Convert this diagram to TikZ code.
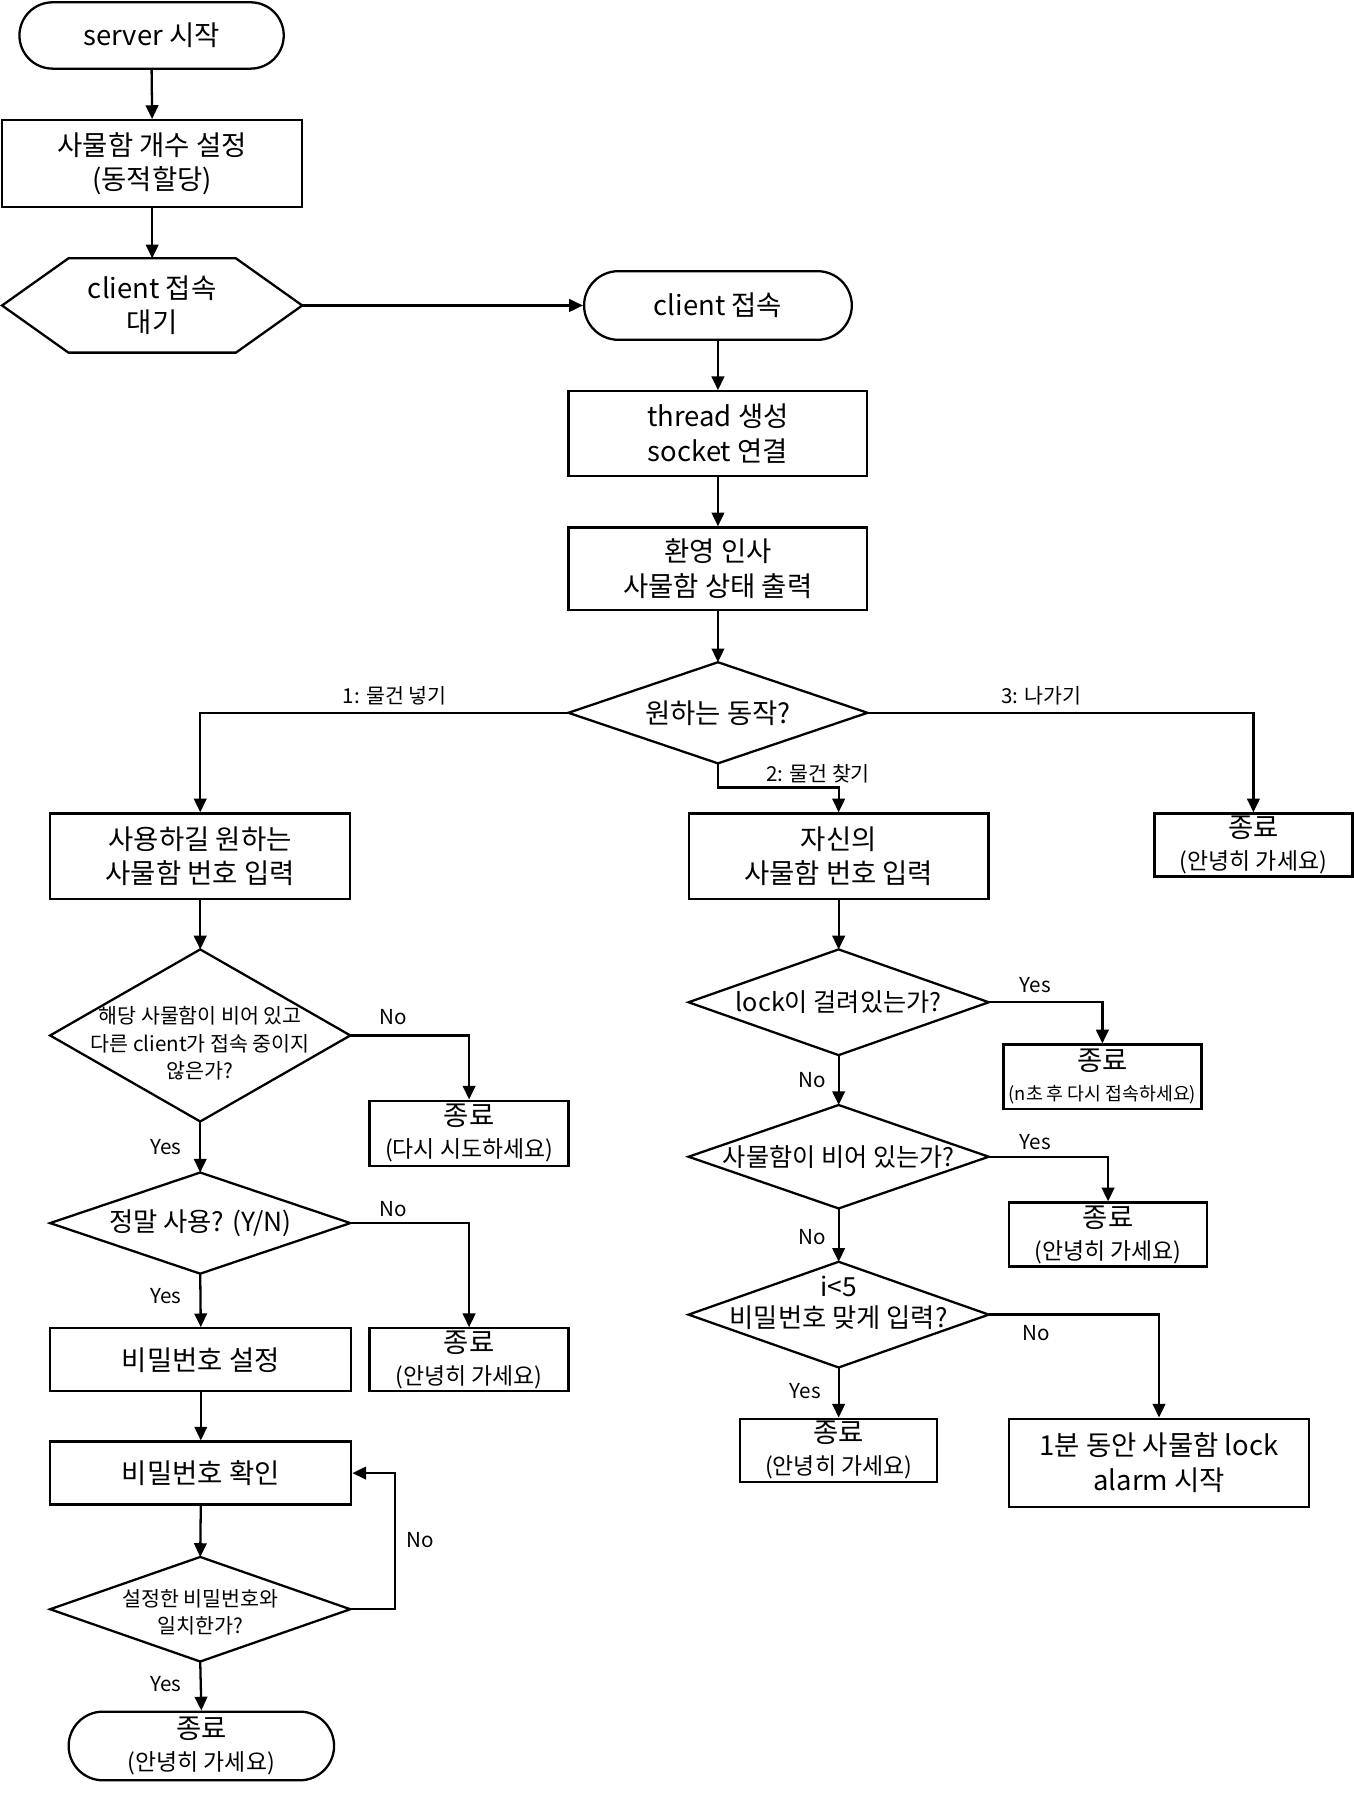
\documentclass[tikz,border=0pt]{standalone}
\usepackage{fontspec}
\setmainfont{Noto Sans CJK KR}
\usetikzlibrary{arrows.meta,shapes.misc,calc}
\begin{document}
\begin{tikzpicture}[x=1pt,y=-1pt,
  box/.style={draw,line width=2pt,rectangle,inner sep=0pt,align=center,font=\fontsize{24}{30}\selectfont},
  term/.style={draw,line width=2pt,rounded rectangle,inner sep=0pt,align=center,font=\fontsize{24}{30}\selectfont},
  dia/.style={inner sep=0pt,align=center,font=\fontsize{22}{30}\selectfont},
  small/.style={font=\fontsize{18}{24}\selectfont},
  endbox/.style={box,font=\fontsize{20}{28}\selectfont},
  conn/.style={line width=2pt,-{Triangle[length=12pt,width=11pt]}},
  shp/.style={line width=2pt,line join=miter},
  lab/.style={inner sep=0pt,font=\fontsize{18}{20}\selectfont}
]
\fill[white] (0,0) rectangle (1183,1568);
\useasboundingbox (0,0) rectangle (1183,1568);
\newcommand\bigtx[1]{{\fontsize{24}{28}\selectfont #1}}
\newcommand\diadraw[1]{\draw[shp] (#1.north) -- (#1.east) -- (#1.south) -- (#1.west) -- cycle;}

% left top column
\node[term,minimum width=231pt,minimum height=58pt] (srv) at (132.5,31) {server 시작};
\node[box,minimum width=262pt,minimum height=76pt] (cnt) at (133,143) {사물함 개수 설정\\(동적할당)};
\node[dia,font=\fontsize{24}{30}\selectfont,minimum width=262pt,minimum height=82pt] (wait) at (133,267) {client 접속\\대기};
\draw[shp] ([xshift=58pt]wait.north west) -- ([xshift=-58pt]wait.north east) -- (wait.east)
  -- ([xshift=-58pt]wait.south east) -- ([xshift=58pt]wait.south west) -- (wait.west) -- cycle;

% center column
\node[term,minimum width=234pt,minimum height=60pt] (cli) at (627.5,267) {client 접속};
\node[box,minimum width=261pt,minimum height=74pt] (thr) at (627.5,379) {thread 생성\\socket 연결};
\node[box,minimum width=261pt,minimum height=72pt] (wel) at (627.5,497) {환영 인사\\사물함 상태 출력};
\node[dia,font=\fontsize{24}{30}\selectfont,minimum width=261pt,minimum height=88pt] (act) at (627.5,623) {원하는 동작?};
\diadraw{act}

% branch boxes
\node[box,minimum width=262pt,minimum height=75pt] (put) at (175,748.5) {사용하길 원하는\\사물함 번호 입력};
\node[box,minimum width=262pt,minimum height=75pt] (find) at (733,748.5) {자신의\\사물함 번호 입력};
\node[endbox,minimum width=173pt,minimum height=55pt] (bye) at (1095.5,738.5) {\bigtx{종료}\\(안녕히 가세요)};

% left column
\node[dia,minimum width=262pt,minimum height=150pt] (d1) at (175,905) {};
\diadraw{d1}
\node[dia,small] (d1t) at (175,912) {해당 사물함이 비어 있고\\다른 client가 접속 중이지\\않은가?};
\node[endbox,minimum width=174pt,minimum height=57pt] (e2) at (410,990.5) {\bigtx{종료}\\(다시 시도하세요)};
\node[dia,font=\fontsize{23}{30}\selectfont,minimum width=262pt,minimum height=88pt] (d2) at (175,1069) {정말 사용? (Y/N)};
\diadraw{d2}
\node[endbox,minimum width=174pt,minimum height=55pt] (e3) at (410,1188.5) {\bigtx{종료}\\(안녕히 가세요)};
\node[box,minimum width=263pt,minimum height=55pt] (pwset) at (175.5,1188.5) {비밀번호 설정};
\node[box,minimum width=263pt,minimum height=55pt] (pwchk) at (175.5,1287.5) {비밀번호 확인};
\node[dia,minimum width=262pt,minimum height=91pt] (d3) at (175,1406.5) {};
\diadraw{d3}
\node[dia,small] (d3t) at (175,1409) {설정한 비밀번호와\\일치한가?};
\node[term,font=\fontsize{20}{28}\selectfont,minimum width=232pt,minimum height=60pt] (fin) at (176,1526) {\bigtx{종료}\\(안녕히 가세요)};

% right column
\node[dia,minimum width=262pt,minimum height=92pt] (d4) at (733,876) {lock이 걸려있는가?};
\diadraw{d4}
\node[box,font=\fontsize{16}{26}\selectfont,minimum width=173pt,minimum height=56pt] (e4) at (963.5,941) {\bigtx{종료}\\(n초 후 다시 접속하세요)};
\node[dia,minimum width=262pt,minimum height=90pt] (d5) at (733,1011) {사물함이 비어 있는가?};
\diadraw{d5}
\node[endbox,minimum width=173pt,minimum height=56pt] (e5) at (968.5,1079) {\bigtx{종료}\\(안녕히 가세요)};
\node[dia,minimum width=262pt,minimum height=92pt] (d6) at (733,1149) {};
\diadraw{d6}
\node[dia,font=\fontsize{23}{27}\selectfont] (d6t) at (733,1139) {i<5\\비밀번호 맞게 입력?};
\node[endbox,minimum width=172pt,minimum height=55pt] (e6) at (733,1267.5) {\bigtx{종료}\\(안녕히 가세요)};
\node[box,minimum width=262pt,minimum height=77pt] (lock) at (1013,1278.5) {1분 동안 사물함 lock\\alarm 시작};

% connectors
\draw[conn] (srv.south) -- (cnt.north);
\draw[conn] (cnt.south) -- (wait.north);
\draw[conn] (wait.east) -- (cli.west);
\draw[conn] (cli.south) -- (thr.north);
\draw[conn] (thr.south) -- (wel.north);
\draw[conn] (wel.south) -- (act.north);
\draw[conn] (act.west) -| (put.north);
\draw[conn] (act.south) -- ++(0,21) -| (find.north);
\draw[conn] (act.east) -| (bye.north);
\draw[conn] (put.south) -- (d1.north);
\draw[conn] (d1.east) -| (e2.north);
\draw[conn] (d1.south) -- (d2.north);
\draw[conn] (d2.east) -| (e3.north);
\draw[conn] (d2.south) -- (pwset.north);
\draw[conn] (pwset.south) -- (pwchk.north);
\draw[conn] (pwchk.south) -- (d3.north);
\draw[conn] (d3.east) -- ++(39,0) |- (pwchk.east);
\draw[conn] (d3.south) -- (fin.north);
\draw[conn] (find.south) -- (d4.north);
\draw[conn] (d4.east) -| (e4.north);
\draw[conn] (d4.south) -- (d5.north);
\draw[conn] (d5.east) -| (e5.north);
\draw[conn] (d5.south) -- (d6.north);
\draw[conn] (d6.east) -| (lock.north);
\draw[conn] (d6.south) -- (e6.north);

% labels
\node[lab] (l1) at (345,608) {1: 물건 넣기};
\node[lab] (l2) at (715,676) {2: 물건 찾기};
\node[lab] (l3) at (910,608) {3: 나가기};
\node[lab] (l4) at (344,889) {No};
\node[lab] (l5) at (145,1003) {Yes};
\node[lab] (l6) at (344,1057) {No};
\node[lab] (l7) at (145,1133) {Yes};
\node[lab] (l8) at (367,1346) {No};
\node[lab] (l9) at (145,1472) {Yes};
\node[lab] (l10) at (905,861) {Yes};
\node[lab] (l11) at (710,944) {No};
\node[lab] (l12) at (905,998) {Yes};
\node[lab] (l13) at (710,1081) {No};
\node[lab] (l14) at (906,1165) {No};
\node[lab] (l15) at (704,1216) {Yes};
\end{tikzpicture}
\end{document}
